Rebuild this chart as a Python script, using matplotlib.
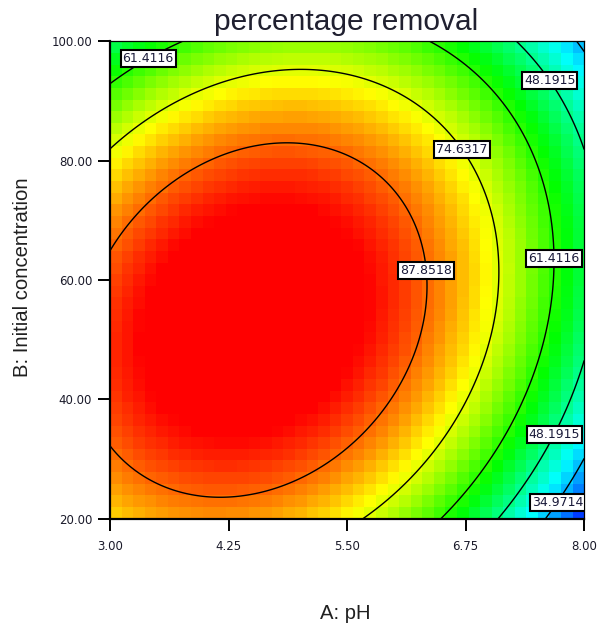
import numpy as np
import matplotlib.pyplot as plt
from matplotlib.colors import LinearSegmentedColormap

# quadratic response surface in coded units
# A = (pH - 5.5) / 2.5, B = (conc - 60) / 40
# terms: intercept, A, B, AB, A^2, B^2
coef = [97.021, -18.596, -4.515, 9.734, -25.649, -24.892]

levels = [34.9714, 48.1915, 61.4116, 74.6317, 87.8518]
ph_ticks = [3.00, 4.25, 5.50, 6.75, 8.00]
conc_ticks = [20.00, 40.00, 60.00, 80.00, 100.00]

# where the contour labels sit (pH, conc)
label_pos = [(3.37, 98.0), (7.67, 93.8), (6.745, 82.2), (7.62, 63.6),
             (6.33, 61.6), (7.62, 34.7), (7.65, 23.5)]

colors = ['#0000ff', '#00ffff', '#00ff00', '#ffff00', '#ff0000']
zmin, zmax = 21.5, 95.5


def response(ph, conc):
    a = (ph - 5.5) / 2.5
    b = (conc - 60) / 40
    return (coef[0] + coef[1] * a + coef[2] * b + coef[3] * a * b
            + coef[4] * a ** 2 + coef[5] * b ** 2)


# coarse colour cells, like the original software
ncell = 41
ph_edges = np.linspace(3, 8, ncell + 1)
conc_edges = np.linspace(20, 100, ncell + 1)
ph_mid = (ph_edges[:-1] + ph_edges[1:]) / 2
conc_mid = (conc_edges[:-1] + conc_edges[1:]) / 2
Z = response(*np.meshgrid(ph_mid, conc_mid))

# fine grid for the contour lines
phf, cf = np.meshgrid(np.linspace(3, 8, 400), np.linspace(20, 100, 400))
ZF = response(phf, cf)

cmap = LinearSegmentedColormap.from_list('de', colors)

fig = plt.figure(figsize=(6.01, 6.24), dpi=100)
ax = fig.add_axes([0.183, 0.1688, 0.789, 0.765])
ax.pcolormesh(ph_edges, conc_edges, Z, cmap=cmap, vmin=zmin, vmax=zmax, shading='flat')
cs = ax.contour(phf, cf, ZF, levels=levels, colors='k', linewidths=1.0)
texts = ax.clabel(cs, levels, inline=False, fmt='%.4f', manual=label_pos, fontsize=9)
for t in texts:
    t.set_rotation(0)
    t.set_color('#1a1a3a')
    t.set_bbox(dict(boxstyle='square,pad=0.16', fc='white', ec='black', lw=1.5))

ax.set_xlim(3, 8)
ax.set_ylim(20, 100)
ax.set_xticks(ph_ticks)
ax.set_yticks(conc_ticks)
ax.set_xticklabels(['%.2f' % v for v in ph_ticks])
ax.set_yticklabels(['%.2f' % v for v in conc_ticks])
ax.tick_params(length=8.6, width=1.4, labelsize=8.5, labelcolor='#1a1a2a')
ax.tick_params(axis='x', pad=6.5)
ax.tick_params(axis='y', pad=4.3)
for s in ['left', 'bottom']:
    ax.spines[s].set_linewidth(1.6)
for s in ['top', 'right']:
    ax.spines[s].set_linewidth(0.9)

fig.text(345.8 / 601, 1 - 30.5 / 624, 'percentage removal', family='Liberation Sans',
         fontsize=21.5, color='#202030', ha='center', va='baseline')
fig.text(345 / 601, 1 - 619 / 624, 'A: pH', family='Liberation Sans',
         fontsize=14.6, color='#202020', ha='center', va='baseline')
fig.text(28 / 601, 1 - 276.7 / 624, 'B: Initial concentration', family='Liberation Sans',
         fontsize=14.6, color='#202020', ha='center', va='baseline',
         rotation=90, rotation_mode='anchor')

fig.savefig('out.png')
